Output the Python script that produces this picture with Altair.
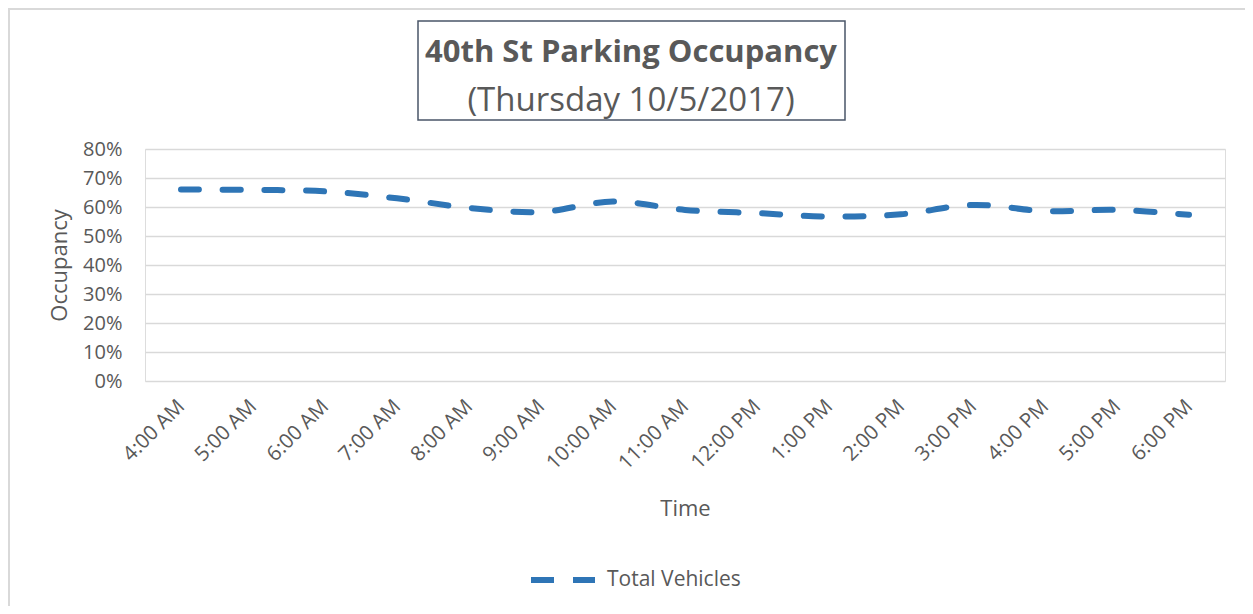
import altair as alt
import pandas as pd

times = ["4:00 AM", "5:00 AM", "6:00 AM", "7:00 AM", "8:00 AM", "9:00 AM", "10:00 AM",
         "11:00 AM", "12:00 PM", "1:00 PM", "2:00 PM", "3:00 PM", "4:00 PM", "5:00 PM", "6:00 PM"]
occupancy = [0.660, 0.659, 0.654, 0.630, 0.597, 0.583, 0.619, 0.590, 0.579, 0.567,
             0.575, 0.607, 0.586, 0.590, 0.573]
series_name = "Total Vehicles"
y_ticks = [0, 0.1, 0.2, 0.3, 0.4, 0.5, 0.6, 0.7, 0.8]
title_text = "40th St Parking Occupancy"
subtitle_text = "(Thursday 10/5/2017)"

df = pd.DataFrame({"Time": times, "Occupancy": occupancy, "Series": [series_name] * len(times)})

FONT = "Open Sans"
GRAY = "#595959"
BLUE = "#2E75B6"

W, H = 1080, 232

line = alt.Chart(df).mark_line(
    strokeWidth=6, strokeDash=[18, 23.7], strokeCap="round", interpolate="catmull-rom"
).encode(
    x=alt.X("Time:N", sort=times,
            scale=alt.Scale(type="point", padding=0.5),
            axis=alt.Axis(title="Time", labelAngle=-45, labelAlign="right", labelBaseline="middle",
                          labelPadding=22, labelFontSize=20.5, labelColor=GRAY, labelFont=FONT,
                          ticks=False, domain=False, grid=False,
                          titleFontSize=22, titleColor=GRAY, titleFont=FONT, titleFontWeight="normal",
                          titleY=134, titleBaseline="alphabetic")),
    y=alt.Y("Occupancy:Q",
            scale=alt.Scale(domain=[0, 0.8], nice=False),
            axis=alt.Axis(title="Occupancy", values=y_ticks, format=".0%",
                          labelPadding=23, labelFontSize=20, labelColor=GRAY, labelFont=FONT,
                          ticks=False, domain=False, grid=True, gridColor="#D9D9D9", gridWidth=1.3,
                          titleFontSize=22, titleColor=GRAY, titleFont=FONT, titleFontWeight="normal",
                          titleX=-86, titleY=H / 2, titleAngle=270, titleBaseline="middle",
                          titleAlign="center")),
    color=alt.Color("Series:N", scale=alt.Scale(range=[BLUE]),
                    legend=alt.Legend(title=None, orient="none", legendX=383, legendY=396,
                                      symbolType="stroke", symbolSize=4096, symbolStrokeWidth=6,
                                      symbolDash=[23, 19], labelFontSize=21, labelColor=GRAY,
                                      labelFont=FONT, labelOffset=9, padding=0)),
)

one = pd.DataFrame({"k": [0]})

outer = alt.Chart(one).mark_rect(fill=None, stroke="#D9D9D9", strokeWidth=2).encode(
    x=alt.value(-136), x2=alt.value(1400), y=alt.value(-140), y2=alt.value(800)
)

title_box = alt.Chart(one).mark_rect(fill=None, stroke="#4A5668", strokeWidth=1.5).encode(
    x=alt.value(273), x2=alt.value(700), y=alt.value(-128), y2=alt.value(-29)
)

title_mark = alt.Chart(one).mark_text(
    text=title_text, font=FONT, fontSize=31, fontWeight="bold", color=GRAY,
    align="center", baseline="alphabetic"
).encode(x=alt.value(486), y=alt.value(-87))

subtitle_mark = alt.Chart(one).mark_text(
    text=subtitle_text, font=FONT, fontSize=33, fontWeight="normal", color=GRAY,
    align="center", baseline="alphabetic"
).encode(x=alt.value(486), y=alt.value(-38))

chart = alt.layer(outer, line, title_box, title_mark, subtitle_mark).properties(
    width=W, height=H,
    autosize=alt.AutoSizeParams(type="none"),
    padding={"left": 137, "top": 141, "right": 20, "bottom": 225},
).configure_view(stroke=None).configure(background="white")

chart.save("out.html", embed_options={"renderer": "svg", "actions": False})
